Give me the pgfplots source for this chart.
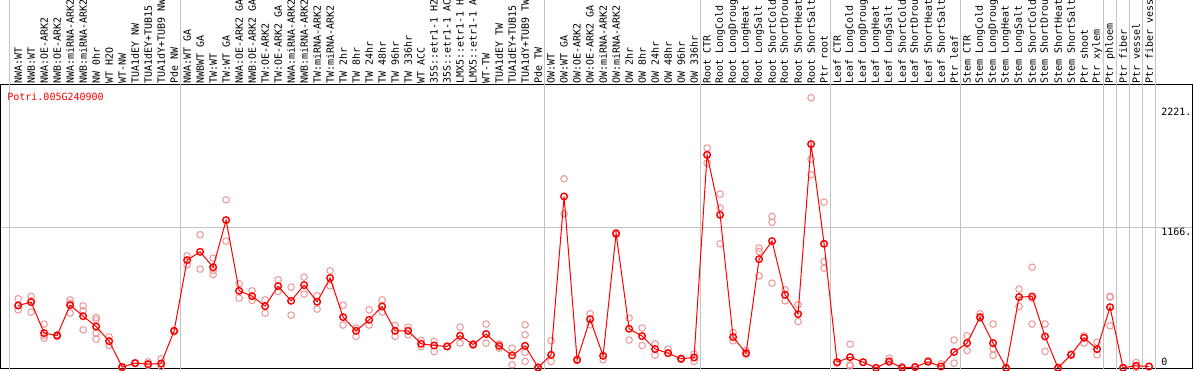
\documentclass[border=0pt]{standalone}
\usepackage{fontspec}
\setmainfont{DejaVu Sans Mono}
\usepackage{pgfplots}
\pgfplotsset{compat=1.18}
\usepackage{pgfplotstable}
\definecolor{rep}{RGB}{238,150,150}
\definecolor{grd}{RGB}{196,196,196}

\pgfplotstableread{
x y
0 519
1 547
2 289
3 269
4 522
5 430
6 344
7 222
8 6
9 39
10 31
11 36
12 308
13 897
14 966
15 838
16 1230
17 641
18 597
19 514
20 680
21 558
22 689
23 550
24 747
25 422
26 308
27 400
28 511
29 308
30 308
31 200
32 186
33 178
34 267
35 194
36 281
37 183
38 103
39 183
40 3
41 108
42 1427
43 67
44 405
45 100
46 1119
47 325
48 264
49 156
50 122
51 75
52 86
53 1774
54 1274
55 256
56 122
57 905
58 1055
59 608
60 447
61 1863
62 1033
63 47
64 89
65 47
66 0
67 53
68 0
69 6
70 50
71 11
72 131
73 206
74 422
75 206
76 0
77 589
78 594
79 261
80 0
81 108
82 250
83 156
84 505
85 0
86 17
87 11
}\means

\pgfplotstableread{
x y
0 575
0 483
0 519
1 594
1 464
1 560
2 364
2 247
2 270
3 260
3 275
4 566
4 455
4 540
5 516
5 475
5 316
6 419
6 400
6 289
6 239
7 256
7 186
8 0
8 10
9 35
9 42
10 50
10 20
11 75
11 11
11 30
12 310
12 300
13 933
13 858
14 1108
14 822
15 913
15 811
15 777
16 1399
16 1055
17 700
17 580
18 641
18 561
19 566
19 455
20 733
20 636
21 672
21 439
22 755
22 614
23 600
23 489
24 808
24 683
25 522
25 356
26 331
26 261
27 483
27 356
28 566
28 464
29 353
29 261
30 339
30 275
31 228
31 178
32 219
32 136
33 175
33 180
34 339
34 206
35 200
35 190
36 364
36 206
37 200
37 164
38 164
38 25
39 358
39 275
39 128
39 53
40 0
40 5
41 225
41 53
42 1574
42 1283
43 60
44 450
44 358
45 67
46 1110
46 1125
47 414
47 231
48 331
48 186
49 200
49 106
50 156
50 120
51 80
51 70
52 114
52 53
53 1830
53 1705
54 1447
54 1333
54 1033
55 294
55 225
56 144
56 110
57 997
57 969
57 766
58 1260
58 1213
58 705
59 650
59 558
60 525
60 386
61 2249
61 1738
61 1607
62 1380
62 885
62 830
63 40
63 45
64 197
64 25
64 15
65 45
66 0
67 81
67 45
68 11
69 10
70 60
71 33
72 231
72 39
73 267
73 144
74 450
74 410
75 364
75 158
75 103
76 0
77 655
77 511
78 838
78 580
78 364
79 364
79 136
80 0
81 115
82 265
82 206
83 214
83 108
84 589
84 595
84 350
85 0
86 44
86 5
87 11
}\reps

\begin{document}
\begin{tikzpicture}[x=1pt,y=1pt]
\useasboundingbox (0,0) rectangle (1194,370);
\clip (0,0) rectangle (1194,370);
\begin{axis}[
  at={(1,1)}, anchor=south west,
  scale only axis, width=1192pt, height=284pt,
  xmin=-1.385, xmax=90.31, ymin=-8.3, ymax=2357,
  axis line style={black, line width=1pt},
  clip mode=individual,
  major tick length=0pt,
  xtick={0,...,87},
  xticklabels={NWA:WT, NWB:WT, NWA:OE-ARK2, NWB:OE-ARK2, NWA:miRNA-ARK2, NWB:miRNA-ARK2, NW 0hr, WT H2O, WT-NW, TUA1dEY NW, TUA1dEY+TUB15 NW, TUA1dY+TUB9 NW, Pde NW,
    NWA:WT GA, NWBWT GA, TW:WT, TW:WT GA, NWA:OE-ARK2 GA, NWB:OE-ARK2 GA, TW:OE-ARK2, TW:OE-ARK2 GA, NWA:miRNA-ARK2 GA, NWB:miRNA-ARK2 GA, TW:miRNA-ARK2, TW:miRNA-ARK2 GA, TW 2hr, TW 8hr, TW 24hr, TW 48hr, TW 96hr, TW 336hr, WT ACC, 35S::etr1-1 H2O, 35S::etr1-1 ACC, LMX5::etr1-1 H2O, LMX5::etr1-1 ACC, WT-TW, TUA1dEY TW, TUA1dEY+TUB15 TW, TUA1dY+TUB9 TW, Pde TW,
    OW:WT, OW:WT GA, OW:OE-ARK2, OW:OE-ARK2 GA, OW:miRNA-ARK2, OW:miRNA-ARK2 GA, OW 2hr, OW 8hr, OW 24hr, OW 48hr, OW 96hr, OW 336hr,
    Root CTR, Root LongCold, Root LongDrought, Root LongHeat, Root LongSalt, Root ShortCold, Root ShortDrought, Root ShortHeat, Root ShortSalt, Ptr root,
    Leaf CTR, Leaf LongCold, Leaf LongDrought, Leaf LongHeat, Leaf LongSalt, Leaf ShortCold, Leaf ShortDrought, Leaf ShortHeat, Leaf ShortSalt, Ptr leaf,
    Stem CTR, Stem LongCold, Stem LongDrought, Stem LongHeat, Stem LongSalt, Stem ShortCold, Stem ShortDrought, Stem ShortHeat, Stem ShortSalt, Ptr shoot, Ptr xylem,
    Ptr phloem, Ptr fiber, Ptr vessel, Ptr fiber vessel},
  xticklabel pos=right,
  xticklabel style={rotate=90, anchor=west, inner sep=1pt, font=\fontsize{10}{10}\selectfont},
  ytick={1166}, yticklabels={},
  ymajorgrids, grid style={grd, line width=1pt},
]
\pgfplotsinvokeforeach{-0.68,12.5,40.5,52.5,62.5,72.5,83.5,84.5,85.5,86.5,87.5}{
  \draw[grd, line width=1pt] (axis cs:#1,-8.3) -- (axis cs:#1,3300);
}
\addplot[only marks, mark=o, mark size=3.3pt, mark options={draw=rep, line width=1pt}] table {\reps};
\addplot[red, line width=1pt, mark=o, mark size=3.3pt, mark options={draw=red, line width=1.4pt}] table {\means};
\node[anchor=base west, inner sep=0pt, text=red, font=\fontsize{10}{10}\selectfont] at (rel axis cs:0.0059,0.9437) {Potri.005G240900};
\node[anchor=base west, inner sep=0pt, font=\fontsize{10}{10}\selectfont] at (rel axis cs:0.974,0.891) {2221.};
\node[anchor=base west, inner sep=0pt, font=\fontsize{10}{10}\selectfont] at (rel axis cs:0.974,0.468) {1166.};
\node[anchor=base west, inner sep=0pt, font=\fontsize{10}{10}\selectfont] at (rel axis cs:0.974,0.0106) {0};
\end{axis}
\end{tikzpicture}
\end{document}
